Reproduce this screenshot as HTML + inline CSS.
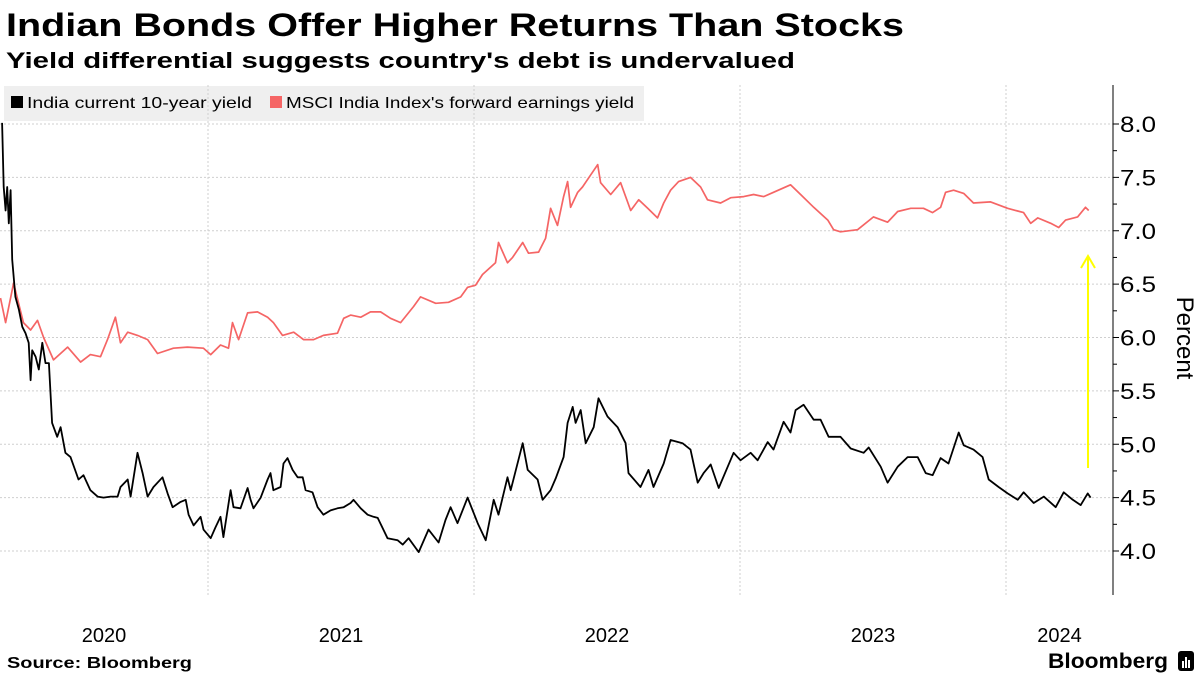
<!DOCTYPE html>
<html><head><meta charset="utf-8"><style>
html,body{margin:0;padding:0;background:#fff;}
svg{display:block;font-family:"Liberation Sans",sans-serif;}
</style></head><body>
<svg id="chart" width="1200" height="675" viewBox="0 0 1200 675">
<text x="6" y="36" font-size="32" font-weight="bold" textLength="898" lengthAdjust="spacingAndGlyphs">Indian Bonds Offer Higher Returns Than Stocks</text>
<text x="6" y="68" font-size="22" font-weight="bold" textLength="789" lengthAdjust="spacingAndGlyphs">Yield differential suggests country's debt is undervalued</text>
<g>
<rect x="4" y="86" width="640" height="35" fill="#efefef"/>
<g><rect x="11" y="96" width="12" height="12" fill="#000"/><text x="27" y="108" font-size="16" textLength="225" lengthAdjust="spacingAndGlyphs">India current 10-year yield</text></g>
<g><rect x="270" y="96" width="12" height="12" fill="#f56565"/><text x="286" y="108" font-size="16" textLength="348" lengthAdjust="spacingAndGlyphs">MSCI India Index's forward earnings yield</text></g>
</g>
<g id="grid"></g>
<g id="yaxis"></g>
<g id="xaxis"></g>
<g id="series"></g>
<g>
<line x1="1088" y1="468" x2="1088" y2="256" stroke="#ffff00" stroke-width="2"/>
<polyline points="1081,268 1088,256 1095,268" fill="none" stroke="#ffff00" stroke-width="2"/>
</g>
<text x="0" y="0" transform="translate(1177,338) rotate(90)" font-size="24" text-anchor="middle">Percent</text>
<text x="7" y="668" font-size="16" font-weight="bold" textLength="185" lengthAdjust="spacingAndGlyphs">Source: Bloomberg</text>
<text x="1048" y="668" font-size="21" font-weight="bold" textLength="120" lengthAdjust="spacingAndGlyphs">Bloomberg</text>
<g><rect x="1178" y="651" width="16" height="20" rx="3" fill="#000"/><rect x="1182" y="661" width="2" height="7" fill="#fff"/><rect x="1185" y="657" width="2" height="11" fill="#fff"/><rect x="1188" y="660" width="2" height="8" fill="#fff"/></g>
</svg>
<script>
const yTicks = [4.0, 4.5, 5.0, 5.5, 6.0, 6.5, 7.0, 7.5, 8.0];
const xYears = [2020, 2021, 2022, 2023, 2024];
const bondDates = [2020.226,2020.232,2020.239,2020.245,2020.251,2020.258,2020.264,2020.276,2020.289,2020.302,2020.314,2020.326,2020.333,2020.339,2020.352,2020.364,2020.377,2020.389,2020.402,2020.414,2020.433,2020.446,2020.464,2020.483,2020.513,2020.532,2020.558,2020.585,2020.607,2020.634,2020.660,2020.671,2020.698,2020.709,2020.735,2020.754,2020.773,2020.795,2020.829,2020.848,2020.867,2020.897,2020.916,2020.927,2020.946,2020.972,2020.983,2021.010,2021.028,2021.047,2021.058,2021.085,2021.096,2021.122,2021.149,2021.160,2021.171,2021.198,2021.224,2021.235,2021.246,2021.273,2021.284,2021.299,2021.318,2021.337,2021.356,2021.367,2021.393,2021.412,2021.434,2021.461,2021.487,2021.510,2021.536,2021.547,2021.574,2021.600,2021.622,2021.638,2021.675,2021.713,2021.732,2021.754,2021.792,2021.829,2021.867,2021.893,2021.912,2021.938,2021.976,2022.014,2022.044,2022.074,2022.092,2022.126,2022.138,2022.183,2022.202,2022.239,2022.258,2022.288,2022.307,2022.337,2022.352,2022.371,2022.382,2022.401,2022.420,2022.450,2022.468,2022.502,2022.540,2022.570,2022.581,2022.626,2022.656,2022.675,2022.713,2022.739,2022.784,2022.814,2022.841,2022.863,2022.890,2022.920,2022.976,2023.002,2023.040,2023.066,2023.104,2023.126,2023.164,2023.190,2023.209,2023.239,2023.277,2023.303,2023.333,2023.378,2023.416,2023.465,2023.484,2023.529,2023.555,2023.593,2023.630,2023.668,2023.698,2023.724,2023.754,2023.784,2023.822,2023.841,2023.878,2023.912,2023.935,2023.972,2024.006,2024.044,2024.066,2024.104,2024.142,2024.187,2024.217,2024.251,2024.281,2024.307,2024.318];
const bondYield = [8.01,7.41,7.19,7.41,7.07,7.38,6.73,6.38,6.26,6.10,6.04,5.95,5.60,5.88,5.82,5.70,5.95,5.76,5.76,5.20,5.07,5.16,4.92,4.88,4.67,4.71,4.57,4.51,4.50,4.51,4.51,4.60,4.67,4.51,4.92,4.73,4.51,4.60,4.69,4.54,4.41,4.46,4.48,4.34,4.24,4.32,4.20,4.12,4.22,4.32,4.13,4.57,4.41,4.40,4.59,4.48,4.40,4.50,4.67,4.73,4.57,4.60,4.82,4.87,4.76,4.69,4.69,4.57,4.55,4.41,4.34,4.38,4.40,4.41,4.45,4.48,4.40,4.34,4.32,4.31,4.12,4.10,4.06,4.12,3.99,4.20,4.08,4.29,4.41,4.26,4.50,4.26,4.10,4.48,4.34,4.69,4.57,5.01,4.76,4.67,4.48,4.57,4.68,4.88,5.20,5.35,5.20,5.32,5.01,5.16,5.43,5.26,5.16,5.01,4.73,4.60,4.76,4.60,4.82,5.04,5.01,4.95,4.64,4.73,4.81,4.59,4.92,4.85,4.92,4.85,5.02,4.95,5.21,5.11,5.32,5.37,5.23,5.23,5.07,5.07,4.96,4.92,4.97,4.79,4.64,4.79,4.88,4.88,4.73,4.71,4.87,4.82,5.11,4.99,4.95,4.88,4.67,4.60,4.54,4.48,4.55,4.45,4.51,4.41,4.55,4.48,4.43,4.54,4.50];
const msciDates = [2020.220,2020.239,2020.269,2020.288,2020.306,2020.333,2020.359,2020.382,2020.419,2020.472,2020.521,2020.558,2020.596,2020.622,2020.652,2020.671,2020.698,2020.735,2020.773,2020.810,2020.870,2020.923,2020.983,2021.010,2021.047,2021.077,2021.092,2021.115,2021.149,2021.186,2021.224,2021.246,2021.280,2021.322,2021.359,2021.397,2021.434,2021.487,2021.510,2021.536,2021.574,2021.611,2021.649,2021.686,2021.724,2021.773,2021.799,2021.856,2021.904,2021.950,2021.976,2022.006,2022.032,2022.081,2022.092,2022.126,2022.145,2022.183,2022.205,2022.243,2022.269,2022.288,2022.314,2022.337,2022.352,2022.363,2022.390,2022.408,2022.438,2022.465,2022.476,2022.514,2022.551,2022.589,2022.619,2022.653,2022.690,2022.713,2022.739,2022.769,2022.814,2022.852,2022.878,2022.927,2022.965,2023.014,2023.051,2023.089,2023.126,2023.190,2023.228,2023.277,2023.330,2023.352,2023.378,2023.442,2023.502,2023.555,2023.593,2023.642,2023.690,2023.724,2023.754,2023.773,2023.803,2023.841,2023.878,2023.942,2024.006,2024.066,2024.093,2024.119,2024.168,2024.198,2024.224,2024.269,2024.299,2024.311];
const msciYield = [6.37,6.14,6.51,6.32,6.14,6.07,6.16,6.00,5.79,5.91,5.77,5.84,5.82,5.98,6.19,5.95,6.05,6.02,5.98,5.85,5.90,5.91,5.90,5.84,5.93,5.90,6.14,5.98,6.23,6.24,6.19,6.14,6.02,6.05,5.98,5.98,6.02,6.04,6.18,6.21,6.19,6.24,6.24,6.18,6.14,6.29,6.38,6.32,6.33,6.38,6.47,6.49,6.59,6.70,6.89,6.70,6.75,6.89,6.79,6.80,6.93,7.21,7.05,7.32,7.46,7.22,7.36,7.41,7.52,7.62,7.45,7.34,7.45,7.19,7.29,7.21,7.12,7.26,7.38,7.46,7.50,7.41,7.29,7.26,7.31,7.32,7.34,7.32,7.36,7.43,7.34,7.22,7.10,7.01,6.99,7.01,7.13,7.08,7.18,7.21,7.21,7.17,7.22,7.36,7.38,7.35,7.26,7.27,7.21,7.17,7.07,7.12,7.07,7.03,7.10,7.13,7.22,7.19];

const NS = 'http://www.w3.org/2000/svg';
const PLOT_L = 0, PLOT_R = 1113, PLOT_T = 85, PLOT_B = 595;
function xScale(t){ return 208 + (t - 2021) * 266; }
function yScale(v){ return 551 - (v - 4) * 106.75; }
function mk(tag, attrs, parent){ const e = document.createElementNS(NS, tag); for (const k in attrs) e.setAttribute(k, attrs[k]); parent.appendChild(e); return e; }

const grid = document.getElementById('grid');
const yaxis = document.getElementById('yaxis');
const xaxis = document.getElementById('xaxis');
const series = document.getElementById('series');

yTicks.forEach(v => {
  const y = yScale(v);
  const gl = mk('line', {x1: PLOT_L, x2: PLOT_R, y1: y, y2: y, stroke: '#cfcfcf', 'stroke-width': 1, 'stroke-dasharray': '2,2'}, grid);
  
  
  const tk = mk('line', {x1: PLOT_R, x2: PLOT_R + 6, y1: y, y2: y, stroke: '#000', 'stroke-width': 1}, yaxis);
  
  
  const lb = mk('text', {x: PLOT_R + 7, y: y + 8, 'font-size': 22, textLength: 36, lengthAdjust: 'spacingAndGlyphs'}, yaxis);
  lb.textContent = v.toFixed(1);
  
  
});
for (let i = 0; i < yTicks.length - 1; i++) {
  const y = yScale((yTicks[i] + yTicks[i+1]) / 2);
  const mt = mk('line', {x1: PLOT_R, x2: PLOT_R + 4, y1: y, y2: y, stroke: '#000', 'stroke-width': 1}, yaxis);
  
  
}
const ax = mk('line', {x1: PLOT_R, x2: PLOT_R, y1: PLOT_T, y2: PLOT_B, stroke: '#000', 'stroke-width': 1}, yaxis);



xYears.forEach(yr => {
  const xs = xScale(yr);
  if (xs > PLOT_L + 5) {
    const gl = mk('line', {x1: xs, x2: xs, y1: PLOT_T, y2: PLOT_B, stroke: '#cfcfcf', 'stroke-width': 1, 'stroke-dasharray': '2,2'}, grid);
    
    
  }
  const a = Math.max(xs, PLOT_L), b = Math.min(xScale(yr + 1), PLOT_R);
  const lb = mk('text', {x: (a + b) / 2, y: 642, 'font-size': 20, 'text-anchor': 'middle'}, xaxis);
  lb.textContent = yr;
  
  
});

function path(dates, vals){ return dates.map((d, i) => (i ? 'L' : 'M') + xScale(d).toFixed(1) + ',' + yScale(vals[i]).toFixed(1)).join(''); }
const red = mk('path', {d: path(msciDates, msciYield), fill: 'none', stroke: '#f56565', 'stroke-width': 1.7, 'stroke-linejoin': 'round'}, series);


const blk = mk('path', {d: path(bondDates, bondYield), fill: 'none', stroke: '#000', 'stroke-width': 1.8, 'stroke-linejoin': 'round'}, series);


</script>
</body></html>
